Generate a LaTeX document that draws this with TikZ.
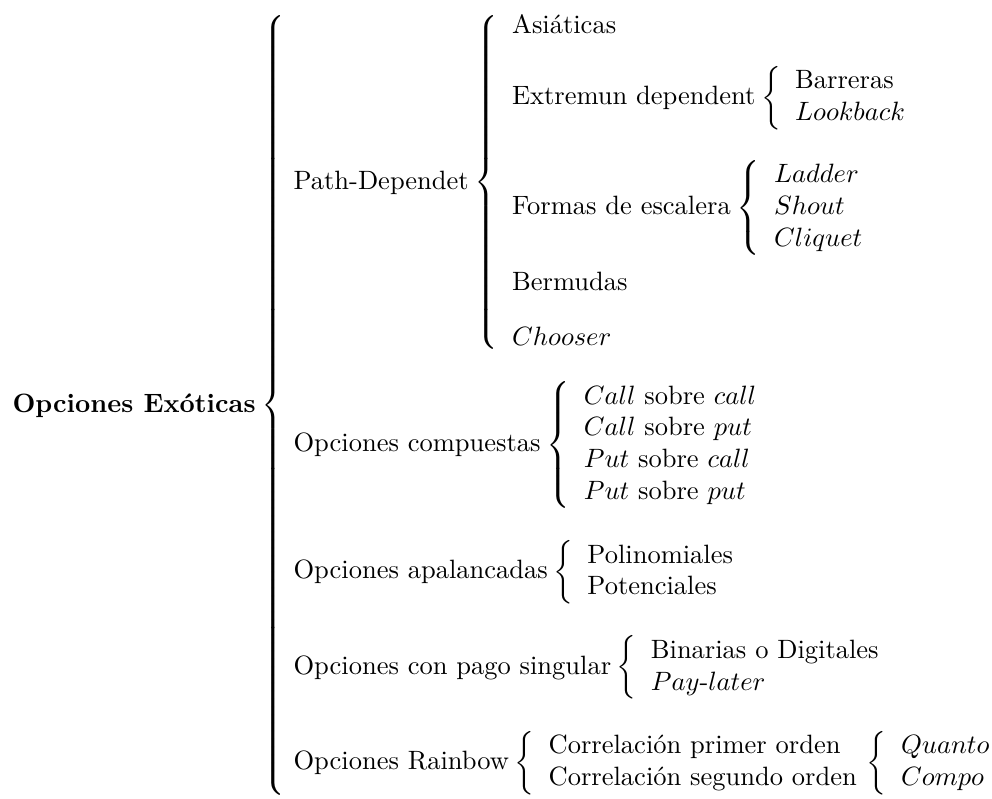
\documentclass[tikz,border=0pt]{standalone}
\usepackage{amsmath}
\usetikzlibrary{positioning}

\newcommand{\llave}[1]{{\nulldelimiterspace=0pt$\left\{\vcenter{\hbox{\rule{0pt}{#1}}}\right.$}}

\tikzset{
	etiq/.style={inner sep=0pt, anchor=base west},
	llave/.style={inner sep=0pt, anchor=west},
}

\begin{document}
\begin{tikzpicture}[x=0.3774pt, y=-0.3774pt]
	\useasboundingbox (0,0) rectangle (992,798);
	\node[etiq, font=\bfseries] (exo) at (12,412) {Opciones Exóticas};
	\node[llave] (bexo) at ([shift={(1.67pt,2.5pt)}]exo.base east) {\llave{294pt}};
	\node[etiq] (path) at ([shift={(3pt,81.5pt)}]bexo.east) {Path-Dependet};
	\node[llave] (bpath) at ([shift={(1.67pt,2.5pt)}]path.base east) {\llave{126pt}};
	\node[etiq] (asia) at ([shift={(5pt,56.5pt)}]bpath.east) {Asiáticas};
	\node[etiq] (extr) at ([shift={(5pt,29.5pt)}]bpath.east) {Extremun dependent};
	\node[llave] (bextr) at ([shift={(1.67pt,2.5pt)}]extr.base east) {\llave{24pt}};
	\node[etiq] (barr) at ([shift={(5pt,3.5pt)}]bextr.east) {Barreras};
	\node[etiq] (look) at ([shift={(5pt,-8.5pt)}]bextr.east) {$Lookback$};
	\node[etiq] (form) at ([shift={(5pt,-12pt)}]bpath.east) {Formas de escalera};
	\node[llave] (bform) at ([shift={(1.67pt,2.5pt)}]form.base east) {\llave{36pt}};
	\node[etiq] (ladd) at ([shift={(5pt,9.5pt)}]bform.east) {$Ladder$};
	\node[etiq] (shou) at ([shift={(5pt,-2.5pt)}]bform.east) {$Shout$};
	\node[etiq] (cliq) at ([shift={(5pt,-14.5pt)}]bform.east) {$Cliquet$};
	\node[etiq] (berm) at ([shift={(5pt,-40.5pt)}]bpath.east) {Bermudas};
	\node[etiq] (choo) at ([shift={(5pt,-61.5pt)}]bpath.east) {$Chooser$};
	\node[etiq] (comp) at ([shift={(3pt,-17.5pt)}]bexo.east) {Opciones compuestas};
	\node[llave] (bcomp) at ([shift={(1.67pt,2.5pt)}]comp.base east) {\llave{48pt}};
	\node[etiq] (cc) at ([shift={(5pt,15.5pt)}]bcomp.east) {$Call$ sobre $call$};
	\node[etiq] (cp) at ([shift={(5pt,3.5pt)}]bcomp.east) {$Call$ sobre $put$};
	\node[etiq] (pc) at ([shift={(5pt,-8.5pt)}]bcomp.east) {$Put$ sobre $call$};
	\node[etiq] (pp) at ([shift={(5pt,-20.5pt)}]bcomp.east) {$Put$ sobre $put$};
	\node[etiq] (apal) at ([shift={(3pt,-65.5pt)}]bexo.east) {Opciones apalancadas};
	\node[llave] (bapal) at ([shift={(1.67pt,2.5pt)}]apal.base east) {\llave{24pt}};
	\node[etiq] (poli) at ([shift={(5pt,3.5pt)}]bapal.east) {Polinomiales};
	\node[etiq] (pote) at ([shift={(5pt,-8.5pt)}]bapal.east) {Potenciales};
	\node[etiq] (pago) at ([shift={(3pt,-101.5pt)}]bexo.east) {Opciones con pago singular};
	\node[llave] (bpago) at ([shift={(1.67pt,2.5pt)}]pago.base east) {\llave{24pt}};
	\node[etiq] (bina) at ([shift={(5pt,3.5pt)}]bpago.east) {Binarias o Digitales};
	\node[etiq] (payl) at ([shift={(5pt,-8.5pt)}]bpago.east) {$Pay$-$later$};
	\node[etiq] (rain) at ([shift={(3pt,-137.5pt)}]bexo.east) {Opciones Rainbow};
	\node[llave] (brain) at ([shift={(1.67pt,2.5pt)}]rain.base east) {\llave{24pt}};
	\node[etiq] (cor1) at ([shift={(5pt,3.5pt)}]brain.east) {Correlación primer orden};
	\node[etiq] (cor2) at ([shift={(5pt,-8.5pt)}]brain.east) {Correlación segundo orden};
	\node[llave] (bcor) at ([shift={(3.4pt,8.5pt)}]cor2.base east) {\llave{24pt}};
	\node[etiq] (quan) at ([shift={(5pt,3.5pt)}]bcor.east) {$Quanto$};
	\node[etiq] (compo) at ([shift={(5pt,-8.5pt)}]bcor.east) {$Compo$};
\end{tikzpicture}
\end{document}
